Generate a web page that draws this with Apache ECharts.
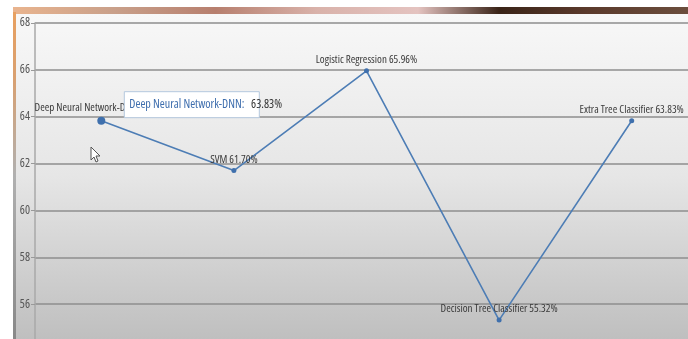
<!DOCTYPE html>
<html><head><meta charset="utf-8">
<script src="https://cdn.jsdelivr.net/npm/echarts@6/dist/echarts.min.js"></script>
<style>html,body{margin:0;padding:0;background:#fff}#c{width:688px;height:339px}</style>
</head><body><div id="c"></div>
<script>
const categories = ['Deep Neural Network-DNN','SVM','Logistic Regression','Decision Tree Classifier','Extra Tree Classifier'];
const accuracy = [63.83, 61.70, 65.96, 55.32, 63.83];
const yMin = 54, yMax = 68, yStep = 2;
const highlighted = 0;

const FONT = "'Open Sans'";
const STRETCH = 'condensed';
const chart = echarts.init(document.getElementById('c'), null, {renderer:'canvas'});

const bgGraphics = [
  {type:'rect', z:-10, silent:true, shape:{x:13,y:12,width:675,height:327},
    style:{fill:new echarts.graphic.LinearGradient(0,0,0,1,[{offset:0,color:'#f8f8f8'},{offset:0.5,color:'#e6e6e6'},{offset:1,color:'#bfbfbf'}])}},
  {type:'rect', z:-9, silent:true, shape:{x:13,y:7,width:675,height:7},
    style:{fill:new echarts.graphic.LinearGradient(0,0,1,0,[
      {offset:0,color:'#e9b48e'},{offset:0.15,color:'#c9a08a'},{offset:0.3,color:'#b77f6e'},
      {offset:0.45,color:'#d9b2aa'},{offset:0.6,color:'#e4c3c0'},{offset:0.72,color:'#3a2418'},
      {offset:0.85,color:'#5b3a2c'},{offset:1,color:'#6b4e3d'}])}},
  {type:'rect', z:-9, silent:true, shape:{x:13,y:12,width:3,height:327},
    style:{fill:new echarts.graphic.LinearGradient(0,0,0,1,[{offset:0,color:'#e8a060'},{offset:0.2,color:'#d9a070'},{offset:0.5,color:'#b0b0b0'},{offset:1,color:'#888'}])}}
];

chart.setOption({
  animation:false,
  backgroundColor:'transparent',
  grid:{left:35, top:23, width:663, height:328, containLabel:false, outerBoundsMode:'none'},
  xAxis:{type:'category', data:categories, boundaryGap:true,
    axisLine:{show:false}, axisTick:{show:false}, axisLabel:{show:false}, splitLine:{show:false}},
  yAxis:{type:'value', min:yMin, max:yMax, interval:yStep,
    axisLine:{show:true, lineStyle:{color:'#a9a9a9', width:1.5}},
    axisTick:{show:true, length:4, lineStyle:{color:'#999'}},
    axisLabel:{color:'#555', fontSize:12, fontFamily:FONT, fontWeight:STRETCH, margin:5},
    splitLine:{show:true, lineStyle:{color:'#8e8e8e', width:1.5}}},
  series:[{
    type:'line', data:accuracy.map((v,i)=>({value:v, symbolSize: i===highlighted?8:5})),
    lineStyle:{color:'#4d7db5', width:1.6},
    itemStyle:{color:'#3f70ad'},
    symbol:'circle',
    label:{show:true, position:'top', distance:3, color:'#3a3a3a', fontSize:11, fontFamily:FONT, fontWeight:STRETCH,
      formatter:p=>p.name+' '+p.value.toFixed(2)+'%'}
  }],
  graphic:bgGraphics
});

const p = chart.convertToPixel({seriesIndex:0}, [highlighted, accuracy[highlighted]]);
const tipX = p[0] + 23, tipY = p[1] - 29;
chart.setOption({graphic:bgGraphics.concat([
  {type:'rect', z:100, shape:{x:tipX, y:tipY, width:135, height:26},
    style:{fill:'#ffffff', stroke:'#b4c8de', lineWidth:1}},
  {type:'text', z:101, x:tipX+5, y:tipY+13,
    style:{text:'{a|'+categories[highlighted]+':}  {b|'+accuracy[highlighted].toFixed(2)+'%}',
      verticalAlign:'middle',
      rich:{a:{fill:'#3d6dad', fontSize:12, fontFamily:FONT, fontWeight:STRETCH},
            b:{fill:'#333', fontSize:12, fontFamily:FONT, fontWeight:STRETCH}}}},
  {type:'polygon', z:100, shape:{points:[[91,147],[91,160],[94,157],[96,162],[98,161],[96,156],[100,156]]},
    style:{fill:'#fff', stroke:'#555', lineWidth:1}}
])});
</script></body></html>
